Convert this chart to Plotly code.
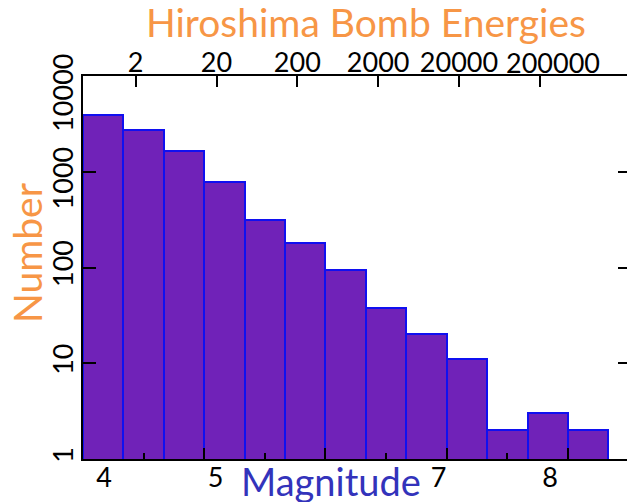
import math
import plotly.graph_objects as go

# Histogram of earthquake magnitudes (bins of 1/3 magnitude unit)
bin_left = [4.0, 4.3333, 4.6667, 5.0, 5.3333, 5.6667, 6.0, 6.3333, 6.6667, 7.0, 7.3333, 7.6667, 8.0]
bin_width = 0.3333
counts = [3900, 2700, 1660, 780, 310, 180, 94, 38, 20, 11, 2, 3, 2]

# Axis labels
mag_labels = [4, 5, 7, 8]
energy_ticks = [2, 20, 200, 2000, 20000, 200000]
count_ticks = [1, 10, 100, 1000, 10000]
count_text = ["1", "10", "100", "1000" + "\u00a0" * 3, "10000" + "\u00a0" * 6]

# Magnitude equivalent to one Hiroshima bomb on the energy scale (E ~ 10^(1.5 M))
M_HIRO = 4.234
MAG_RANGE = [4.0, 8.487]
energy_range = [1.5 * (m - M_HIRO) for m in MAG_RANGE]

W, H = 627, 502
ML, MR, MT, MB = 83, 0, 76, 43
pw, ph = W - ML - MR, H - MT - MB

def px(xp):
    return (xp - ML) / pw

def py(yp):
    return (H - MB - yp) / ph

FONT = "Lato"
ORANGE = "rgb(247,150,70)"
BLUE_TXT = "rgb(51,51,187)"

fig = go.Figure()
fig.add_trace(go.Bar(
    x=bin_left, y=counts, width=bin_width, offset=0,
    marker=dict(color="rgb(112,34,184)", line=dict(color="rgb(16,16,240)", width=2)),
    hoverinfo="x+y", showlegend=False,
))
# placeholder traces so the secondary axes are laid out
fig.add_trace(go.Scatter(x=[20], y=[1], xaxis="x2", mode="markers",
                         marker=dict(opacity=0), hoverinfo="skip", showlegend=False))
fig.add_trace(go.Scatter(x=[5], y=[1], xaxis="x3", mode="markers",
                         marker=dict(opacity=0), hoverinfo="skip", showlegend=False))
fig.add_trace(go.Scatter(x=[5], y=[10], yaxis="y2", mode="markers",
                         marker=dict(opacity=0), hoverinfo="skip", showlegend=False))

tickfont = dict(family=FONT, size=27, color="black")

# the last energy label sits a little right of its tick, drawn separately
energy_text = [str(v) for v in energy_ticks[:-1]] + [""]

fig.update_layout(
    template="none",
    width=W, height=H,
    margin=dict(l=ML, r=MR, t=MT, b=MB, pad=0),
    paper_bgcolor="white", plot_bgcolor="white",
    bargap=0,
    xaxis=dict(
        range=MAG_RANGE, showgrid=False, zeroline=False, automargin=False,
        showline=True, linecolor="black", linewidth=2, mirror=False,
        ticks="inside", tickmode="linear", tick0=4, dtick=1, ticklen=11, tickwidth=2,
        tickcolor="black", showticklabels=False,
        minor=dict(ticks="inside", dtick=0.5, tick0=4, ticklen=6, tickwidth=2, tickcolor="black", showgrid=False),
    ),
    xaxis2=dict(
        type="log", range=energy_range, overlaying="x", side="top", anchor="y",
        showgrid=False, zeroline=False, automargin=False,
        showline=True, linecolor="black", linewidth=2,
        ticks="inside", ticklen=11, tickwidth=2, tickcolor="black",
        tickvals=energy_ticks, ticktext=energy_text, tickangle=0,
        tickfont=tickfont, ticklabelstandoff=-9,
    ),
    xaxis3=dict(
        range=[3.8117, 8.6906], overlaying="x", side="bottom", anchor="y",
        showgrid=False, zeroline=False, automargin=False, showline=False,
        ticks="", tickvals=mag_labels, ticktext=[str(v) for v in mag_labels],
        tickangle=0, tickfont=tickfont, ticklabelstandoff=0,
    ),
    yaxis=dict(
        type="log", range=[0, 4], showgrid=False, zeroline=False, automargin=False,
        showline=True, linecolor="black", linewidth=2, mirror=False,
        ticks="inside", ticklen=13, tickwidth=2, tickcolor="black",
        tickvals=count_ticks, ticktext=count_text,
        tickangle=-90, tickfont=tickfont, ticklabelstandoff=-3,
    ),
    yaxis2=dict(
        type="log", range=[0, 4], overlaying="y", side="right", anchor="x",
        showgrid=False, zeroline=False, automargin=False, showline=False,
        ticks="inside", ticklen=9, tickwidth=2, tickcolor="black",
        tickvals=count_ticks, showticklabels=False,
    ),
    annotations=[
        dict(text=str(energy_ticks[-1]), x=math.log10(energy_ticks[-1]), xref="x2",
             y=1, yref="paper", xanchor="center", yanchor="bottom", xshift=13, yshift=-5,
             showarrow=False, font=tickfont),
        dict(text="Hiroshima Bomb Energies", x=px(366), y=py(22), xref="paper", yref="paper",
             xanchor="center", yanchor="middle", showarrow=False,
             font=dict(family=FONT, size=39, color=ORANGE)),
        dict(text="Magnitude", x=px(331), y=py(481), xref="paper", yref="paper",
             xanchor="center", yanchor="middle", showarrow=False,
             font=dict(family=FONT, size=38, color=BLUE_TXT)),
        dict(text="Number", x=px(27), y=py(253), xref="paper", yref="paper",
             xanchor="center", yanchor="middle", showarrow=False, textangle=-90,
             font=dict(family=FONT, size=39, color=ORANGE)),
    ],
)

fig.write_html("out.html")
